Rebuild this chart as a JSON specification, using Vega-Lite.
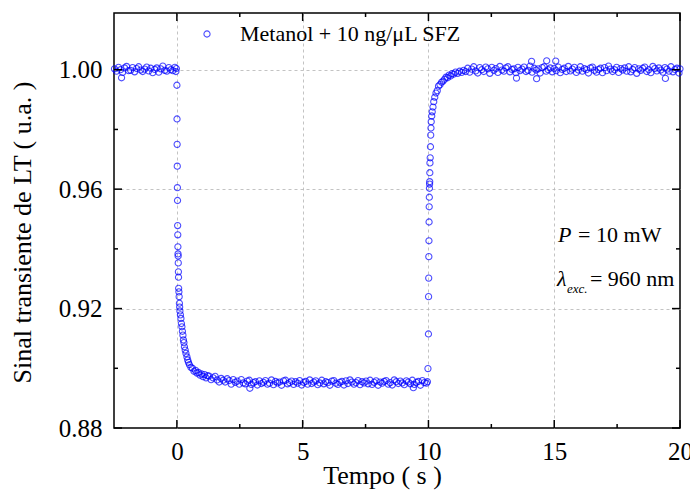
{
"$schema": "https://vega.github.io/schema/vega-lite/v6.json",
"width": 566, "height": 415,
"autosize": "none",
"padding": {"left": 114, "top": 13, "right": 10, "bottom": 63},
"background": "white",
"config": {
 "view": {"stroke": "black", "strokeWidth": 1.5},
 "font": "Liberation Serif",
 "axis": {"labelFont": "Liberation Serif", "titleFont": "Liberation Serif", "labelColor": "black", "titleColor": "black", "titleFontWeight": "normal", "domain": false, "ticks": false, "labelFlush": false, "labelOverlap": false, "gridColor": "#b4b4b4", "gridDash": [3, 3], "gridWidth": 0.8}
},
"datasets": {
 "pts": [
{"t":-2.48,"s":1.0003},{"t":-2.40,"s":0.9995},{"t":-2.32,"s":1.0008},{"t":-2.24,"s":1.0000},{"t":-2.20,"s":0.9973},{"t":-2.16,"s":0.9991},{"t":-2.08,"s":1.0006},{"t":-2.00,"s":1.0011},{"t":-1.92,"s":0.9997},{"t":-1.84,"s":0.9998},{"t":-1.76,"s":1.0007},{"t":-1.68,"s":0.9993},{"t":-1.60,"s":1.0004},{"t":-1.52,"s":1.0010},{"t":-1.44,"s":0.9999},{"t":-1.36,"s":0.9994},{"t":-1.28,"s":1.0002},{"t":-1.20,"s":1.0009},{"t":-1.12,"s":0.9996},{"t":-1.04,"s":1.0005},{"t":-0.96,"s":0.9990},{"t":-0.88,"s":1.0001},{"t":-0.80,"s":1.0006},{"t":-0.72,"s":0.9992},{"t":-0.64,"s":1.0003},{"t":-0.56,"s":1.0012},{"t":-0.48,"s":0.9998},{"t":-0.40,"s":0.9995},{"t":-0.32,"s":1.0007},{"t":-0.24,"s":1.0000},{"t":-0.16,"s":0.9997},{"t":-0.08,"s":1.0008},{"t":-0.04,"s":0.9994},{"t":-0.02,"s":1.0004},
{"t":0.000,"s":0.9948},{"t":0.005,"s":0.9835},{"t":0.010,"s":0.9750},{"t":0.015,"s":0.9677},{"t":0.020,"s":0.9605},{"t":0.025,"s":0.9562},{"t":0.030,"s":0.9478},{"t":0.035,"s":0.9447},{"t":0.040,"s":0.9407},{"t":0.045,"s":0.9383},{"t":0.050,"s":0.9376},{"t":0.055,"s":0.9353},{"t":0.060,"s":0.9323},{"t":0.065,"s":0.9305},{"t":0.070,"s":0.9268},{"t":0.080,"s":0.9256},{"t":0.090,"s":0.9240},{"t":0.100,"s":0.9218},{"t":0.110,"s":0.9205},{"t":0.120,"s":0.9192},{"t":0.140,"s":0.9179},{"t":0.160,"s":0.9167},{"t":0.180,"s":0.9150},{"t":0.200,"s":0.9139},{"t":0.220,"s":0.9124},{"t":0.240,"s":0.9111},{"t":0.260,"s":0.9095},{"t":0.280,"s":0.9086},{"t":0.300,"s":0.9072},{"t":0.330,"s":0.9061},{"t":0.360,"s":0.9050},{"t":0.400,"s":0.9038},{"t":0.430,"s":0.9028},{"t":0.460,"s":0.9020},
{"t":0.50,"s":0.9012},{"t":0.56,"s":0.9003},{"t":0.62,"s":0.9000},{"t":0.68,"s":0.8990},{"t":0.74,"s":0.8993},{"t":0.80,"s":0.8984},{"t":0.86,"s":0.8986},{"t":0.92,"s":0.8977},{"t":0.98,"s":0.8981},{"t":1.04,"s":0.8972},{"t":1.10,"s":0.8979},{"t":1.16,"s":0.8968},{"t":1.22,"s":0.8975},
{"t":1.28,"s":0.8974},{"t":1.36,"s":0.8962},{"t":1.44,"s":0.8968},{"t":1.52,"s":0.8973},{"t":1.60,"s":0.8961},{"t":1.68,"s":0.8954},{"t":1.76,"s":0.8966},{"t":1.84,"s":0.8960},{"t":1.92,"s":0.8954},{"t":2.00,"s":0.8965},{"t":2.08,"s":0.8959},{"t":2.16,"s":0.8947},{"t":2.24,"s":0.8962},{"t":2.32,"s":0.8953},{"t":2.40,"s":0.8957},{"t":2.48,"s":0.8947},{"t":2.56,"s":0.8962},{"t":2.64,"s":0.8951},{"t":2.72,"s":0.8948},{"t":2.80,"s":0.8957},{"t":2.88,"s":0.8960},{"t":2.90,"s":0.8933},{"t":2.96,"s":0.8946},{"t":3.04,"s":0.8952},{"t":3.12,"s":0.8955},{"t":3.20,"s":0.8944},{"t":3.28,"s":0.8958},{"t":3.36,"s":0.8949},{"t":3.44,"s":0.8953},{"t":3.52,"s":0.8959},{"t":3.60,"s":0.8947},{"t":3.68,"s":0.8950},{"t":3.76,"s":0.8961},{"t":3.84,"s":0.8945},{"t":3.92,"s":0.8956},{"t":4.00,"s":0.8951},{"t":4.08,"s":0.8954},{"t":4.16,"s":0.8943},{"t":4.24,"s":0.8958},{"t":4.32,"s":0.8960},{"t":4.40,"s":0.8948},{"t":4.48,"s":0.8952},{"t":4.56,"s":0.8957},{"t":4.64,"s":0.8946},{"t":4.72,"s":0.8955},{"t":4.80,"s":0.8950},{"t":4.88,"s":0.8959},{"t":4.96,"s":0.8944},{"t":5.04,"s":0.8953},{"t":5.12,"s":0.8956},{"t":5.20,"s":0.8947},{"t":5.28,"s":0.8961},{"t":5.36,"s":0.8949},{"t":5.44,"s":0.8954},{"t":5.52,"s":0.8958},{"t":5.60,"s":0.8945},{"t":5.68,"s":0.8951},{"t":5.76,"s":0.8960},{"t":5.84,"s":0.8948},{"t":5.92,"s":0.8955},{"t":6.00,"s":0.8952},{"t":6.08,"s":0.8943},{"t":6.16,"s":0.8957},{"t":6.24,"s":0.8959},{"t":6.32,"s":0.8950},{"t":6.40,"s":0.8946},{"t":6.48,"s":0.8953},{"t":6.56,"s":0.8956},{"t":6.64,"s":0.8944},{"t":6.72,"s":0.8958},{"t":6.80,"s":0.8949},{"t":6.88,"s":0.8961},{"t":6.96,"s":0.8954},{"t":7.04,"s":0.8947},{"t":7.12,"s":0.8952},{"t":7.20,"s":0.8959},{"t":7.28,"s":0.8945},{"t":7.36,"s":0.8955},{"t":7.44,"s":0.8951},{"t":7.52,"s":0.8957},{"t":7.60,"s":0.8948},{"t":7.68,"s":0.8960},{"t":7.76,"s":0.8946},{"t":7.84,"s":0.8953},{"t":7.92,"s":0.8958},{"t":8.00,"s":0.8943},{"t":8.08,"s":0.8954},{"t":8.16,"s":0.8950},{"t":8.24,"s":0.8956},{"t":8.32,"s":0.8959},{"t":8.40,"s":0.8947},{"t":8.48,"s":0.8952},{"t":8.56,"s":0.8944},{"t":8.64,"s":0.8961},{"t":8.72,"s":0.8955},{"t":8.80,"s":0.8949},{"t":8.88,"s":0.8957},{"t":8.96,"s":0.8951},{"t":9.04,"s":0.8945},{"t":9.12,"s":0.8958},{"t":9.20,"s":0.8954},{"t":9.28,"s":0.8948},{"t":9.36,"s":0.8960},{"t":9.40,"s":0.8935},{"t":9.44,"s":0.8946},{"t":9.52,"s":0.8953},{"t":9.60,"s":0.8956},{"t":9.68,"s":0.8943},{"t":9.76,"s":0.8959},{"t":9.84,"s":0.8952},{"t":9.92,"s":0.8950},{"t":9.96,"s":0.8955},
{"t":9.98,"s":0.8999},{"t":10.000,"s":0.9115},{"t":10.005,"s":0.9240},{"t":10.010,"s":0.9302},{"t":10.015,"s":0.9374},{"t":10.020,"s":0.9427},{"t":10.025,"s":0.9490},{"t":10.030,"s":0.9541},{"t":10.035,"s":0.9573},{"t":10.040,"s":0.9603},{"t":10.045,"s":0.9617},{"t":10.050,"s":0.9625},{"t":10.055,"s":0.9655},{"t":10.060,"s":0.9688},{"t":10.070,"s":0.9705},{"t":10.080,"s":0.9742},{"t":10.090,"s":0.9781},{"t":10.100,"s":0.9805},{"t":10.110,"s":0.9826},{"t":10.13,"s":0.9845},{"t":10.15,"s":0.9859},{"t":10.18,"s":0.9875},{"t":10.21,"s":0.9893},{"t":10.25,"s":0.9908},{"t":10.30,"s":0.9922},{"t":10.35,"s":0.9930},{"t":10.40,"s":0.9945},{"t":10.46,"s":0.9950},{"t":10.52,"s":0.9958},{"t":10.58,"s":0.9962},{"t":10.64,"s":0.9968},{"t":10.70,"s":0.9975},{"t":10.76,"s":0.9973},{"t":10.82,"s":0.9982},{"t":10.88,"s":0.9979},{"t":10.94,"s":0.9987},{"t":11.00,"s":0.9985},{"t":11.08,"s":0.9992},{"t":11.16,"s":0.9988},{"t":11.24,"s":0.9995},{"t":11.32,"s":0.9991},{"t":11.40,"s":0.9998},{"t":11.48,"s":0.9994},
{"t":11.56,"s":1.0005},{"t":11.64,"s":0.9992},{"t":11.72,"s":1.0002},{"t":11.80,"s":1.0010},{"t":11.88,"s":0.9996},{"t":11.96,"s":0.9989},{"t":12.04,"s":1.0007},{"t":12.12,"s":1.0000},{"t":12.20,"s":0.9994},{"t":12.28,"s":1.0009},{"t":12.36,"s":1.0003},{"t":12.44,"s":0.9988},{"t":12.52,"s":1.0008},{"t":12.60,"s":0.9998},{"t":12.68,"s":1.0004},{"t":12.76,"s":0.9991},{"t":12.84,"s":1.0011},{"t":12.92,"s":0.9999},{"t":13.00,"s":0.9995},{"t":13.08,"s":1.0006},{"t":13.16,"s":1.0010},{"t":13.24,"s":0.9993},{"t":13.32,"s":1.0001},{"t":13.40,"s":1.0003},{"t":13.48,"s":0.9990},{"t":13.50,"s":0.9972},{"t":13.56,"s":1.0008},{"t":13.64,"s":0.9997},{"t":13.72,"s":1.0002},{"t":13.80,"s":1.0009},{"t":13.88,"s":0.9994},{"t":13.96,"s":0.9998},{"t":14.04,"s":1.0012},{"t":14.10,"s":1.0028},{"t":14.12,"s":0.9992},{"t":14.20,"s":1.0005},{"t":14.28,"s":0.9999},{"t":14.30,"s":0.9970},{"t":14.36,"s":1.0003},{"t":14.44,"s":0.9989},{"t":14.52,"s":1.0007},{"t":14.60,"s":1.0010},{"t":14.68,"s":0.9995},{"t":14.70,"s":1.0030},{"t":14.76,"s":1.0000},{"t":14.84,"s":1.0006},{"t":14.92,"s":0.9993},{"t":15.00,"s":1.0004},{"t":15.06,"s":1.0029},{"t":15.08,"s":0.9997},{"t":15.16,"s":1.0009},{"t":15.24,"s":0.9990},{"t":15.32,"s":1.0001},{"t":15.40,"s":1.0005},{"t":15.48,"s":0.9994},{"t":15.56,"s":1.0011},{"t":15.64,"s":0.9996},{"t":15.72,"s":1.0002},{"t":15.80,"s":1.0008},{"t":15.88,"s":0.9991},{"t":15.96,"s":0.9999},{"t":16.04,"s":1.0010},{"t":16.12,"s":0.9995},{"t":16.20,"s":1.0004},{"t":16.28,"s":1.0000},{"t":16.36,"s":0.9989},{"t":16.44,"s":1.0006},{"t":16.52,"s":1.0009},{"t":16.60,"s":0.9998},{"t":16.68,"s":0.9992},{"t":16.76,"s":1.0001},{"t":16.84,"s":1.0005},{"t":16.92,"s":0.9990},{"t":17.00,"s":1.0007},{"t":17.08,"s":0.9997},{"t":17.16,"s":1.0012},{"t":17.24,"s":1.0002},{"t":17.32,"s":0.9994},{"t":17.40,"s":1.0000},{"t":17.48,"s":1.0008},{"t":17.56,"s":0.9991},{"t":17.64,"s":1.0004},{"t":17.72,"s":0.9999},{"t":17.80,"s":1.0006},{"t":17.88,"s":0.9995},{"t":17.96,"s":1.0010},{"t":18.04,"s":0.9993},{"t":18.12,"s":1.0001},{"t":18.20,"s":1.0007},{"t":18.28,"s":0.9988},{"t":18.36,"s":1.0003},{"t":18.44,"s":0.9998},{"t":18.52,"s":1.0005},{"t":18.60,"s":1.0009},{"t":18.68,"s":0.9994},{"t":18.76,"s":1.0000},{"t":18.84,"s":0.9990},{"t":18.92,"s":1.0011},{"t":19.00,"s":1.0004},{"t":19.08,"s":0.9996},{"t":19.16,"s":1.0006},{"t":19.24,"s":0.9999},{"t":19.32,"s":0.9992},{"t":19.40,"s":1.0007},{"t":19.42,"s":0.9971},{"t":19.48,"s":1.0002},{"t":19.56,"s":0.9995},{"t":19.64,"s":1.0010},{"t":19.72,"s":0.9993},{"t":19.80,"s":1.0001},{"t":19.88,"s":1.0005},{"t":19.96,"s":0.9989},{"t":20.00,"s":1.0003}
 ],
 "ital": [{"t":15.15,"s":0.9423,"txt":"P"},{"t":15.11,"s":0.9277,"txt":"λ"}],
 "norm": [{"t":15.95,"s":0.9423,"txt":"= 10 mW"},{"t":16.42,"s":0.9277,"txt":"= 960 nm"}],
 "sub": [{"t":15.51,"s":0.9252,"txt":"exc."}],
 "xmaj": [{"v":0},{"v":5},{"v":10},{"v":15},{"v":20}],
 "xmin": [{"v":2.5},{"v":7.5},{"v":12.5},{"v":17.5}],
 "ymaj": [{"v":0.88},{"v":0.92},{"v":0.96},{"v":1.00}],
 "ymin": [{"v":0.90},{"v":0.94},{"v":0.98}]
},
"layer": [
 {
  "data": {"name": "pts"},
  "mark": {"type": "point", "shape": "circle", "filled": false, "size": 38, "strokeWidth": 1.1},
  "encoding": {
   "x": {"field": "t", "type": "quantitative", "scale": {"domain": [-2.5, 20], "nice": false, "zero": false},
    "axis": {"orient": "bottom", "values": [0, 5, 10, 15, 20], "title": "Tempo ( s )", "titleFontSize": 26, "titlePadding": -2, "titleX": 268, "labelFontSize": 25, "labelPadding": 11,
     "grid": true,
     "gridOpacity": {"condition": {"test": "datum.value == 20", "value": 0}, "value": 1}}},
   "y": {"field": "s", "type": "quantitative", "scale": {"domain": [0.88, 1.019], "nice": false, "zero": false},
    "axis": {"orient": "left", "values": [0.88, 0.92, 0.96, 1.00], "format": ".2f", "title": "Sinal transiente de LT ( u.a. )", "titleFontSize": 26, "titlePadding": 23, "titleY": 219, "labelFontSize": 25, "labelPadding": 12,
     "grid": true,
     "gridOpacity": {"condition": {"test": "datum.value < 0.885", "value": 0}, "value": 1}}},
   "color": {"datum": "Metanol + 10 ng/μL SFZ", "type": "nominal", "scale": {"range": ["#0000ff"]},
    "legend": {"orient": "none", "legendX": 82, "legendY": 10, "title": null, "padding": 0, "labelFont": "Liberation Serif", "labelFontSize": 22, "labelColor": "black", "labelLimit": 500, "symbolSize": 38, "symbolStrokeWidth": 1.1, "labelOffset": 22}}
  }
 },
 {
  "data": {"name": "xmaj"},
  "mark": {"type": "rule", "color": "black", "strokeWidth": 1.5, "y2Offset": -8},
  "encoding": {"x": {"field": "v", "type": "quantitative", "axis": null}, "y": {"datum": 0.88, "axis": null}, "y2": {"datum": 0.88}}
 },
 {
  "data": {"name": "xmaj"},
  "mark": {"type": "rule", "color": "black", "strokeWidth": 1.5, "y2Offset": 8},
  "encoding": {"x": {"field": "v", "type": "quantitative", "axis": null}, "y": {"datum": 1.019, "axis": null}, "y2": {"datum": 1.019}}
 },
 {
  "data": {"name": "xmin"},
  "mark": {"type": "rule", "color": "black", "strokeWidth": 1.5, "y2Offset": -4},
  "encoding": {"x": {"field": "v", "type": "quantitative", "axis": null}, "y": {"datum": 0.88, "axis": null}, "y2": {"datum": 0.88}}
 },
 {
  "data": {"name": "xmin"},
  "mark": {"type": "rule", "color": "black", "strokeWidth": 1.5, "y2Offset": 4},
  "encoding": {"x": {"field": "v", "type": "quantitative", "axis": null}, "y": {"datum": 1.019, "axis": null}, "y2": {"datum": 1.019}}
 },
 {
  "data": {"name": "ymaj"},
  "mark": {"type": "rule", "color": "black", "strokeWidth": 1.5, "x2Offset": 8},
  "encoding": {"y": {"field": "v", "type": "quantitative", "axis": null}, "x": {"datum": -2.5, "axis": null}, "x2": {"datum": -2.5}}
 },
 {
  "data": {"name": "ymaj"},
  "mark": {"type": "rule", "color": "black", "strokeWidth": 1.5, "x2Offset": -8},
  "encoding": {"y": {"field": "v", "type": "quantitative", "axis": null}, "x": {"datum": 20, "axis": null}, "x2": {"datum": 20}}
 },
 {
  "data": {"name": "ymin"},
  "mark": {"type": "rule", "color": "black", "strokeWidth": 1.5, "x2Offset": 4},
  "encoding": {"y": {"field": "v", "type": "quantitative", "axis": null}, "x": {"datum": -2.5, "axis": null}, "x2": {"datum": -2.5}}
 },
 {
  "data": {"name": "ymin"},
  "mark": {"type": "rule", "color": "black", "strokeWidth": 1.5, "x2Offset": -4},
  "encoding": {"y": {"field": "v", "type": "quantitative", "axis": null}, "x": {"datum": 20, "axis": null}, "x2": {"datum": 20}}
 },
 {
  "data": {"name": "ital"},
  "mark": {"type": "text", "align": "left", "baseline": "alphabetic", "fontSize": 22, "fontStyle": "italic", "font": "Liberation Serif", "color": "black"},
  "encoding": {
   "x": {"field": "t", "type": "quantitative", "axis": null},
   "y": {"field": "s", "type": "quantitative", "axis": null},
   "text": {"field": "txt"}
  }
 },
 {
  "data": {"name": "norm"},
  "mark": {"type": "text", "align": "left", "baseline": "alphabetic", "fontSize": 22, "font": "Liberation Serif", "color": "black"},
  "encoding": {
   "x": {"field": "t", "type": "quantitative", "axis": null},
   "y": {"field": "s", "type": "quantitative", "axis": null},
   "text": {"field": "txt"}
  }
 },
 {
  "data": {"name": "sub"},
  "mark": {"type": "text", "align": "left", "baseline": "alphabetic", "fontSize": 13, "fontStyle": "italic", "font": "Liberation Serif", "color": "black"},
  "encoding": {
   "x": {"field": "t", "type": "quantitative", "axis": null},
   "y": {"field": "s", "type": "quantitative", "axis": null},
   "text": {"field": "txt"}
  }
 }
],
"resolve": {"axis": {"x": "independent", "y": "independent"}}
}
